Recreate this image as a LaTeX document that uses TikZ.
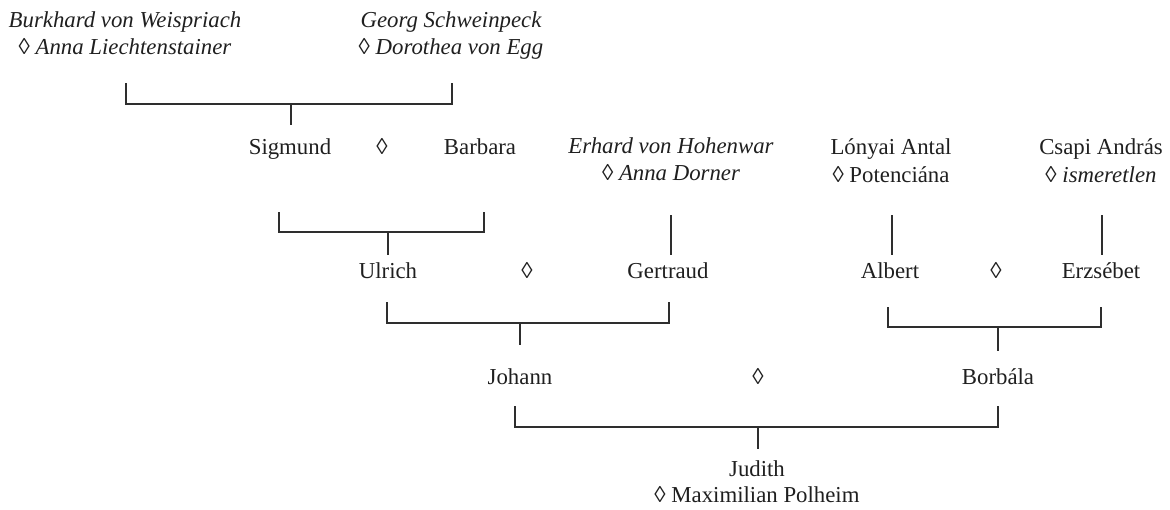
\documentclass[tikz,border=0pt]{standalone}
\usepackage{fontspec}
\setmainfont{Liberation Serif}
\newcommand{\loz}{{\upshape ◊}}
\begin{document}
\begin{tikzpicture}[x=1pt,y=-1pt,
  nm/.style={anchor=base, inner sep=0pt, text=black!88, font=\fontsize{22.8}{27}\selectfont},
  it/.style={nm, font=\fontsize{22.8}{27}\selectfont\itshape},
  ln/.style={line width=1.2pt, draw=black!82}]
\useasboundingbox (0,0) rectangle (1170,509);
% row 1
\node[it] (burk)  at (125,27) {Burkhard von Weispriach};
\node[it] (burkw) at (125,54) {\loz{} Anna Liechtenstainer};
\node[it] (georg) at (451,27) {Georg Schweinpeck};
\node[it] (georgw) at (451,54) {\loz{} Dorothea von Egg};
% row 2
\node[nm] (sig)  at (290,154) {Sigmund};
\node[nm] (m1)   at (382,154) {◊};
\node[nm] (barb) at (480,154) {Barbara};
\node[it] (erh)  at (671,153) {Erhard von Hohenwar};
\node[it] (erhw) at (671,180) {\loz{} Anna Dorner};
\node[nm] (lon)  at (891,154) {Lónyai Antal};
\node[nm] (lonw) at (891,182) {◊ Potenciána};
\node[nm] (csa)  at (1101,154) {Csapi András};
\node[nm] (csaw) at (1101,182) {◊ \textit{ismeretlen}};
% row 3
\node[nm] (ulr) at (388,278) {Ulrich};
\node[nm] (m2)  at (527,278) {◊};
\node[nm] (ger) at (668,278) {Gertraud};
\node[nm] (alb) at (890,278) {Albert};
\node[nm] (m3)  at (996,278) {◊};
\node[nm] (erz) at (1101,278) {Erzsébet};
% row 4
\node[nm] (joh) at (520,384) {Johann};
\node[nm] (m4)  at (758,384) {◊};
\node[nm] (bor) at (998,384) {Borbála};
% row 5
\node[nm] (jud)  at (757,476) {Judith};
\node[nm] (judw) at (757,502) {◊ Maximilian Polheim};
% connector points
\coordinate (b1l) at (126,83);  \coordinate (b1r) at (452,83);
\coordinate (b1m) at (291,104); \coordinate (b1c) at (291,125);
\coordinate (b2l) at (279,212); \coordinate (b2r) at (484,212);
\coordinate (b2m) at (388,232); \coordinate (b2c) at (388,255);
\coordinate (v1t) at (671,215); \coordinate (v1b) at (671,255);
\coordinate (v2t) at (892,215); \coordinate (v2b) at (892,255);
\coordinate (v3t) at (1102,215); \coordinate (v3b) at (1102,255);
\coordinate (b3l) at (387,302); \coordinate (b3r) at (669,302);
\coordinate (b3m) at (520,323); \coordinate (b3c) at (520,345);
\coordinate (b5l) at (888,307); \coordinate (b5r) at (1101,307);
\coordinate (b5m) at (998,327); \coordinate (b5c) at (998,351);
\coordinate (b4l) at (515,406); \coordinate (b4r) at (998,406);
\coordinate (b4m) at (758,427); \coordinate (b4c) at (758,449);
% brackets
\draw[ln] (b1l) |- (b1m) -| (b1r);  \draw[ln] (b1m) -- (b1c);
\draw[ln] (b2l) |- (b2m) -| (b2r);  \draw[ln] (b2m) -- (b2c);
\draw[ln] (v1t) -- (v1b);
\draw[ln] (v2t) -- (v2b);
\draw[ln] (v3t) -- (v3b);
\draw[ln] (b3l) |- (b3m) -| (b3r);  \draw[ln] (b3m) -- (b3c);
\draw[ln] (b5l) |- (b5m) -| (b5r);  \draw[ln] (b5m) -- (b5c);
\draw[ln] (b4l) |- (b4m) -| (b4r);  \draw[ln] (b4m) -- (b4c);
\end{tikzpicture}
\end{document}
